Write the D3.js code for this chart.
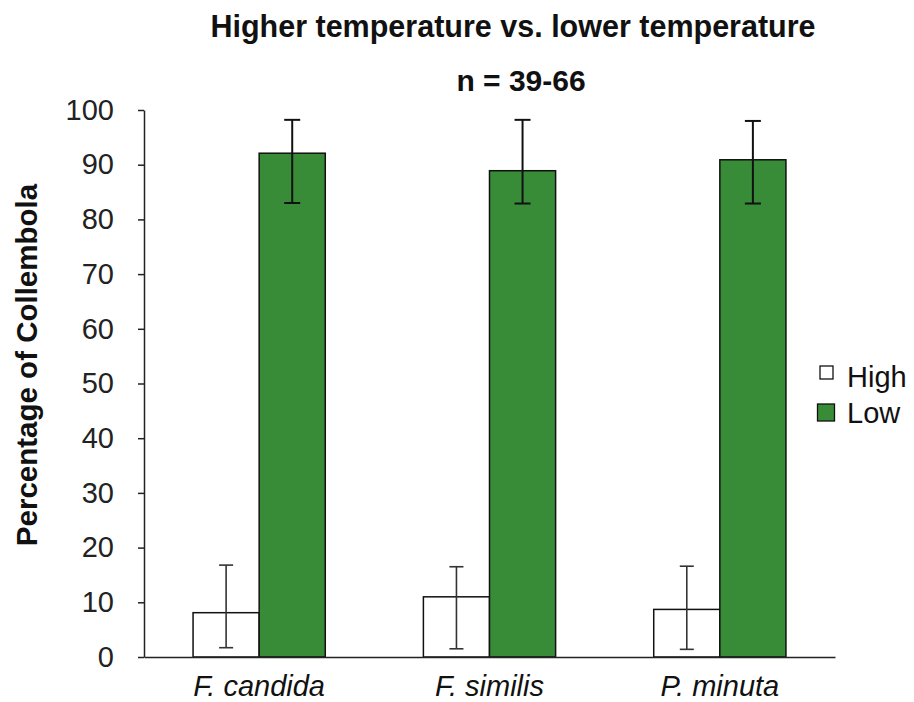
<!DOCTYPE html>
<html>
<head>
<meta charset="utf-8">
<script src="https://cdn.jsdelivr.net/npm/d3@7"></script>
<style>
  html, body { margin: 0; padding: 0; background: #fff; }
  svg { display: block; font-family: "Liberation Sans", Arial, sans-serif; }
</style>
</head>
<body>
<svg id="chart" width="914" height="702"></svg>
<script>
const categories = ["F. candida", "F. similis", "P. minuta"];
const seriesNames = ["High", "Low"];
const highValues = [8.1, 11.0, 8.7];
const highErrLow = [1.7, 1.5, 1.4];
const highErrHigh = [16.8, 16.5, 16.6];
const lowValues = [92.1, 88.9, 90.9];
const lowErrLow = [83.0, 82.9, 82.9];
const lowErrHigh = [98.2, 98.2, 98.0];
const yTicks = [0, 10, 20, 30, 40, 50, 60, 70, 80, 90, 100];
const titleText = "Higher temperature vs. lower temperature";
const subtitleText = "n = 39-66";
const yLabel = "Percentage of Collembola";

const colors = { High: "#ffffff", Low: "#388c38" };

const svg = d3.select("#chart");
const x0 = 144, x1 = 835, yBottom = 657, yTop = 110;

const x = d3.scaleBand().domain(categories).range([x0, x1])
  .paddingInner(0.426).paddingOuter(0.213);
const xs = d3.scaleBand().domain(seriesNames).range([0, x.bandwidth()]).padding(0);
const y = d3.scaleLinear().domain([0, 100]).range([yBottom, yTop]);

const rows = categories.map((c, i) => ({
  cat: c,
  bars: [
    { s: "High", v: highValues[i], lo: highErrLow[i], hi: highErrHigh[i] },
    { s: "Low", v: lowValues[i], lo: lowErrLow[i], hi: lowErrHigh[i] }
  ]
}));

// bars
const g = svg.append("g");
const grp = g.selectAll("g.grp").data(rows).join("g")
  .attr("transform", d => `translate(${x(d.cat)},0)`);
grp.selectAll("rect").data(d => d.bars).join("rect")
  .attr("x", d => xs(d.s))
  .attr("y", d => y(d.v))
  .attr("width", xs.bandwidth())
  .attr("height", d => y(0) - y(d.v))
  .attr("fill", d => colors[d.s])
  .attr("stroke", "#111")
  .attr("stroke-width", 1.5);

// error bars
grp.selectAll("g.err").data(d => d.bars).join("g").each(function(d) {
  const cx = xs(d.s) + xs.bandwidth() / 2;
  const cap = d.s === "Low" ? 8 : 7;
  const col = d.s === "Low" ? "#111" : "#333";
  const sw = d.s === "Low" ? 2 : 1.6;
  const e = d3.select(this);
  e.append("line").attr("x1", cx).attr("x2", cx).attr("y1", y(d.lo)).attr("y2", y(d.hi))
    .attr("stroke", col).attr("stroke-width", sw);
  [d.lo, d.hi].forEach(v => {
    e.append("line").attr("x1", cx - cap).attr("x2", cx + cap).attr("y1", y(v)).attr("y2", y(v))
      .attr("stroke", col).attr("stroke-width", sw);
  });
});

// y axis
const yAxis = d3.axisLeft(y).tickValues(yTicks).tickSize(6).tickPadding(24).tickSizeOuter(0);
const ya = svg.append("g").attr("transform", `translate(${x0},0)`).call(yAxis);
ya.select(".domain").attr("stroke", "#222").attr("stroke-width", 1.5);
ya.selectAll(".tick line").attr("stroke", "#222").attr("stroke-width", 1.5);
ya.selectAll(".tick text").attr("font-size", 29).attr("fill", "#222")
  .attr("font-family", "Liberation Sans, Arial, sans-serif");

// x axis
const xAxis = d3.axisBottom(x).tickSize(0).tickPadding(18);
const xa = svg.append("g").attr("transform", `translate(0,${yBottom})`).call(xAxis);
xa.select(".domain").attr("stroke", "#222").attr("stroke-width", 1.5);
xa.selectAll(".tick text").attr("font-size", 29).attr("font-style", "italic").attr("fill", "#111")
  .attr("font-family", "Liberation Sans, Arial, sans-serif");

// titles
svg.append("text").attr("x", 513).attr("y", 37).attr("text-anchor", "middle")
  .attr("font-size", 30.5).attr("font-weight", "bold").attr("fill", "#111").text(titleText);
svg.append("text").attr("x", 521).attr("y", 91).attr("text-anchor", "middle")
  .attr("font-size", 30).attr("font-weight", "bold").attr("fill", "#111").text(subtitleText);

// y label
svg.append("text").attr("transform", "translate(37,365) rotate(-90)").attr("text-anchor", "middle")
  .attr("font-size", 29.5).attr("font-weight", "bold").attr("fill", "#111").text(yLabel);

// legend
const legend = svg.append("g");
const legendItems = [
  { s: "High", size: 13, cx: 826.5, cy: 372.5, ty: 387 },
  { s: "Low", size: 17, cx: 826, cy: 412.5, ty: 423 }
];
legendItems.forEach(d => {
  legend.append("rect").attr("x", d.cx - d.size / 2).attr("y", d.cy - d.size / 2)
    .attr("width", d.size).attr("height", d.size)
    .attr("fill", colors[d.s]).attr("stroke", "#111").attr("stroke-width", 1.3);
  legend.append("text").attr("x", 847).attr("y", d.ty).attr("font-size", 29)
    .attr("fill", "#111").text(d.s);
});
</script>
</body>
</html>
